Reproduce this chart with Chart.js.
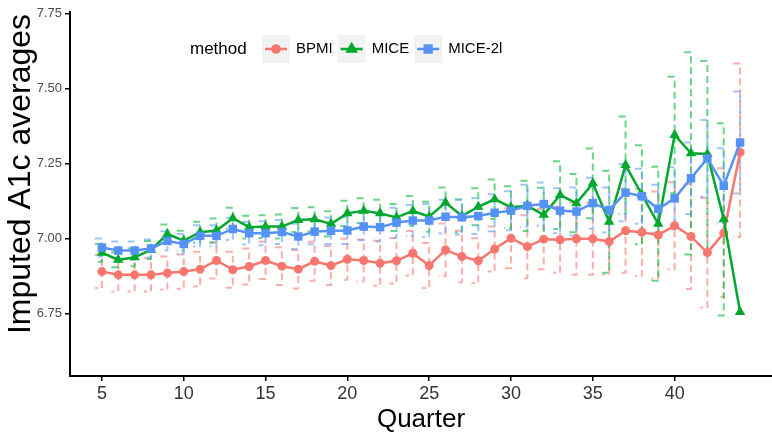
<!DOCTYPE html>
<html lang="en">
<head>
    <meta charset="UTF-8">
    <title>Imputed A1c averages</title>
    <style>
        body {
            margin: 0;
            background-color: #ffffff;
        }
        .chart-container {
            position: relative;
            width: 772px;
            height: 435px;
        }
    </style>
    <script src="https://cdn.jsdelivr.net/npm/chart.js"></script>
</head>
<body>
    <div class="chart-container">
        <canvas id="chart"></canvas>
    </div>
    <script>
        const quarters = [5, 6, 7, 8, 9, 10, 11, 12, 13, 14, 15, 16, 17, 18, 19, 20, 21, 22, 23, 24,
                          25, 26, 27, 28, 29, 30, 31, 32, 33, 34, 35, 36, 37, 38, 39, 40, 41, 42, 43, 44];

        const bpmi = [6.890, 6.879, 6.879, 6.879, 6.885, 6.890, 6.898, 6.927, 6.896, 6.907,
                      6.927, 6.908, 6.898, 6.924, 6.910, 6.931, 6.927, 6.918, 6.926, 6.951,
                      6.910, 6.962, 6.940, 6.926, 6.965, 7.001, 6.973, 6.998, 6.996, 6.999,
                      6.999, 6.990, 7.026, 7.021, 7.012, 7.043, 7.007, 6.953, 7.018, 7.287];
        const bpmiLo = [6.835, 6.824, 6.824, 6.824, 6.830, 6.833, 6.840, 6.867, 6.836, 6.847,
                        6.865, 6.845, 6.834, 6.859, 6.845, 6.863, 6.857, 6.843, 6.850, 6.877,
                        6.835, 6.874, 6.854, 6.851, 6.890, 6.901, 6.868, 6.898, 6.886, 6.879,
                        6.879, 6.880, 6.886, 6.876, 6.867, 6.898, 6.832, 6.770, 6.805, 7.005];
        const bpmiHi = [6.945, 6.934, 6.934, 6.934, 6.940, 6.947, 6.956, 6.987, 6.956, 6.967,
                        6.989, 6.971, 6.962, 6.989, 6.975, 6.999, 6.997, 6.993, 7.002, 7.025,
                        6.985, 7.050, 7.026, 7.001, 7.040, 7.101, 7.078, 7.098, 7.106, 7.119,
                        7.119, 7.100, 7.166, 7.166, 7.157, 7.188, 7.182, 7.136, 7.234, 7.583];

        const mice = [6.953, 6.929, 6.938, 6.962, 7.015, 6.993, 7.021, 7.027, 7.068, 7.038,
                      7.040, 7.040, 7.062, 7.064, 7.049, 7.084, 7.093, 7.084, 7.070, 7.092,
                      7.073, 7.120, 7.075, 7.106, 7.131, 7.104, 7.109, 7.079, 7.145, 7.118,
                      7.184, 7.056, 7.245, 7.146, 7.049, 7.345, 7.284, 7.282, 7.064, 6.755];
        const miceLo = [6.923, 6.904, 6.908, 6.932, 6.983, 6.960, 6.986, 6.987, 7.033, 7.000,
                        7.002, 7.000, 7.022, 7.024, 7.007, 7.042, 7.052, 7.039, 7.025, 7.042,
                        7.023, 7.070, 7.020, 7.044, 7.065, 7.034, 7.025, 6.989, 7.032, 7.021,
                        7.068, 6.886, 7.083, 6.981, 6.859, 7.151, 6.947, 6.972, 6.744, null];
        const miceHi = [6.983, 6.954, 6.968, 6.992, 7.047, 7.026, 7.056, 7.067, 7.103, 7.076,
                        7.078, 7.080, 7.102, 7.104, 7.091, 7.126, 7.134, 7.129, 7.115, 7.142,
                        7.123, 7.170, 7.130, 7.168, 7.197, 7.174, 7.193, 7.169, 7.258, 7.215,
                        7.300, 7.226, 7.407, 7.311, 7.239, 7.539, 7.621, 7.592, 7.384, null];

        const mice2l = [6.970, 6.960, 6.960, 6.967, 6.992, 6.982, 7.009, 7.009, 7.032, 7.018,
                        7.018, 7.022, 7.007, 7.023, 7.026, 7.027, 7.040, 7.038, 7.053, 7.060,
                        7.060, 7.073, 7.071, 7.075, 7.086, 7.093, 7.109, 7.115, 7.093, 7.090,
                        7.118, 7.095, 7.153, 7.141, 7.099, 7.134, 7.201, 7.267, 7.176, 7.320];
        const mice2lLo = [6.940, 6.930, 6.930, 6.937, 6.960, 6.949, 6.974, 6.974, 6.995, 6.980,
                          6.978, 6.982, 6.965, 6.981, 6.982, 6.982, 6.994, 6.990, 7.003, 7.008,
                          7.005, 7.017, 7.013, 7.015, 7.024, 7.028, 7.039, 7.043, 7.018, 7.010,
                          7.033, 7.020, 7.058, 7.049, 7.019, 7.030, 7.082, 7.139, 7.051, 7.150];
        const mice2lHi = [7.000, 6.990, 6.990, 6.997, 7.024, 7.015, 7.044, 7.044, 7.069, 7.056,
                          7.058, 7.062, 7.049, 7.065, 7.070, 7.072, 7.086, 7.086, 7.103, 7.112,
                          7.115, 7.129, 7.129, 7.135, 7.148, 7.158, 7.179, 7.187, 7.168, 7.170,
                          7.203, 7.170, 7.248, 7.233, 7.179, 7.238, 7.320, 7.395, 7.301, 7.490];

        const xTicks = [5, 10, 15, 20, 25, 30, 35, 40];
        const yTicks = [6.75, 7.00, 7.25, 7.50, 7.75];

        const FONT = "'Liberation Sans', Arial, Helvetica, sans-serif";

        const series = [
            { label: 'BPMI', values: bpmi, lo: bpmiLo, hi: bpmiHi, color: '#F8766D', bar: 'rgba(248, 118, 109, 0.6)', style: 'circle', radius: 4.5 },
            { label: 'MICE', values: mice, lo: miceLo, hi: miceHi, color: '#00A82D', bar: 'rgba(0, 186, 56, 0.6)', style: 'triangle', radius: 6 },
            { label: 'MICE-2l', values: mice2l, lo: mice2lLo, hi: mice2lHi, color: '#5592F5', bar: 'rgba(97, 156, 255, 0.6)', style: 'rect', radius: 6 }
        ];

        // dashed error bars, cap on the left side of each bar
        const errorBars = {
            id: 'errorBars',
            beforeDatasetsDraw(chart) {
                const ctx = chart.ctx;
                const xs = chart.scales.x;
                const ys = chart.scales.y;
                ctx.save();
                ctx.lineWidth = 2;
                ctx.setLineDash([7, 4]);
                series.forEach(s => {
                    ctx.strokeStyle = s.bar;
                    quarters.forEach((q, i) => {
                        if (s.lo[i] === null) return;
                        const x = xs.getPixelForValue(q);
                        const yl = ys.getPixelForValue(s.lo[i]);
                        const yh = ys.getPixelForValue(s.hi[i]);
                        ctx.beginPath();
                        ctx.moveTo(x - 7, yh);
                        ctx.lineTo(x, yh);
                        ctx.lineTo(x, yl);
                        ctx.lineTo(x - 7, yl);
                        ctx.stroke();
                    });
                });
                ctx.restore();
            }
        };

        // ggplot style legend with grey key boxes, plus the y axis title
        const methodLegend = {
            id: 'methodLegend',
            afterDraw(chart) {
                const ctx = chart.ctx;
                ctx.save();
                ctx.fillStyle = '#000';
                ctx.textBaseline = 'middle';
                ctx.font = '17px ' + FONT;
                ctx.fillText('method', 190, 49);
                let x = 262;
                series.forEach(s => {
                    ctx.fillStyle = '#F2F2F2';
                    ctx.fillRect(x, 35, 28, 28);
                    ctx.strokeStyle = s.color;
                    ctx.lineWidth = 2.5;
                    ctx.beginPath();
                    ctx.moveTo(x + 3, 49);
                    ctx.lineTo(x + 25, 49);
                    ctx.stroke();
                    Chart.helpers.drawPoint(ctx, {
                        pointStyle: s.style, radius: s.radius * 0.8, borderWidth: 1
                    }, x + 14, 49);
                    ctx.fillStyle = s.color;
                    ctx.fill();
                    ctx.fillStyle = '#000';
                    ctx.font = '15px ' + FONT;
                    ctx.fillText(s.label, x + 34, 49);
                    x += 34 + ctx.measureText(s.label).width + 5;
                });

                ctx.translate(21, 174);
                ctx.rotate(-Math.PI / 2);
                ctx.textAlign = 'center';
                ctx.font = '32px ' + FONT;
                ctx.fillText('Imputed A1c averages', 0, 0);
                ctx.restore();
            }
        };

        const datasets = series.map((s, k) => ({
            label: s.label,
            data: quarters.map((q, i) => ({ x: q, y: s.values[i] })),
            borderColor: s.color,
            backgroundColor: s.color,
            borderWidth: 2.5,
            pointStyle: s.style,
            pointRadius: s.radius,
            pointBorderWidth: 0,
            pointBackgroundColor: s.color,
            tension: 0,
            order: 3 - k
        }));

        new Chart(document.getElementById('chart'), {
            type: 'line',
            data: { datasets: datasets },
            options: {
                responsive: true,
                maintainAspectRatio: false,
                animation: false,
                layout: { autoPadding: false, padding: { top: 12, right: 0, left: 0, bottom: 0 } },
                plugins: {
                    legend: { display: false },
                    tooltip: { enabled: false }
                },
                scales: {
                    x: {
                        type: 'linear',
                        min: 3.05,
                        max: 45.95,
                        afterBuildTicks: s => { s.ticks = xTicks.map(v => ({ value: v })); },
                        afterFit: s => { s.height = 59; },
                        grid: { drawOnChartArea: false, drawTicks: true, tickLength: 5, color: '#000', lineWidth: 1.5 },
                        border: { color: '#000', width: 2 },
                        ticks: { color: '#333', padding: 2, maxRotation: 0, font: { family: FONT, size: 18 } },
                        title: { display: true, text: 'Quarter', color: '#000', padding: { top: 0, bottom: 0 }, font: { family: FONT, size: 26 } }
                    },
                    y: {
                        min: 6.542,
                        max: 7.755,
                        afterBuildTicks: s => { s.ticks = yTicks.map(v => ({ value: v })); },
                        afterFit: s => { s.width = 70; },
                        grid: { drawOnChartArea: false, drawTicks: true, tickLength: 5, color: '#000', lineWidth: 1.5 },
                        border: { color: '#000', width: 2 },
                        ticks: { color: '#4D4D4D', padding: 3, callback: v => v.toFixed(2), font: { family: FONT, size: 13 } },
                        title: { display: false }
                    }
                }
            },
            plugins: [errorBars, methodLegend]
        });
    </script>
</body>
</html>
